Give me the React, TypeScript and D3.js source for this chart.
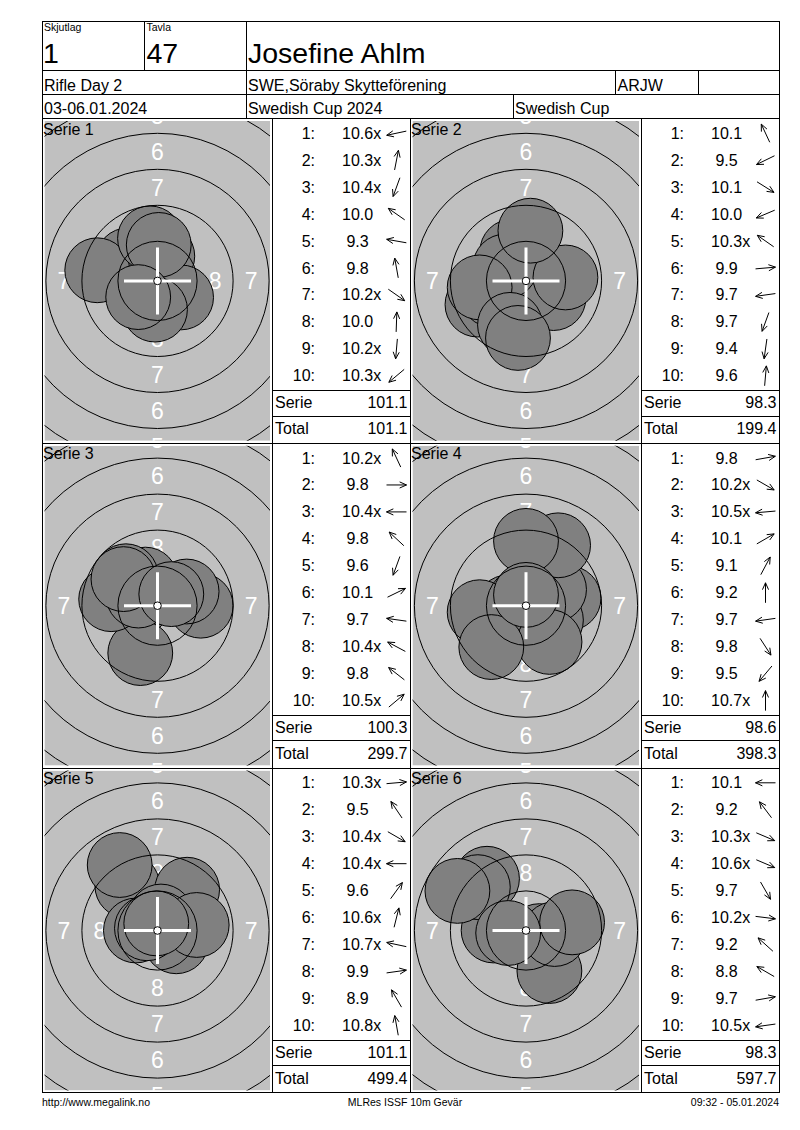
import React from 'react';
import * as d3 from 'd3';

// ---------- DATA ----------
const seriesNames = ['Serie 1', 'Serie 2', 'Serie 3', 'Serie 4', 'Serie 5', 'Serie 6'];

const shotLabels: string[][] = [
  ['10.6x', '10.3x', '10.4x', '10.0', '9.3', '9.8', '10.2x', '10.0', '10.2x', '10.3x'],
  ['10.1', '9.5', '10.1', '10.0', '10.3x', '9.9', '9.7', '9.7', '9.4', '9.6'],
  ['10.2x', '9.8', '10.4x', '9.8', '9.6', '10.1', '9.7', '10.4x', '9.8', '10.5x'],
  ['9.8', '10.2x', '10.5x', '10.1', '9.1', '9.2', '9.7', '9.8', '9.5', '10.7x'],
  ['10.3x', '9.5', '10.4x', '10.4x', '9.6', '10.6x', '10.7x', '9.9', '8.9', '10.8x'],
  ['10.1', '9.2', '10.3x', '10.6x', '9.7', '10.2x', '9.2', '8.8', '9.7', '10.5x'],
];

// direction of each shot from the centre, degrees (0 = right, 90 = up)
const shotAngles: number[][] = [
  [192, 79, 250, 145, 170, 100, 325, 88, 265, 220],
  [115, 206, 328, 203, 145, 5, 188, 250, 262, 85],
  [115, 0, 180, 137, 250, 26, 172, 152, 142, 40],
  [10, 330, 185, 30, 62, 90, 188, 303, 230, 90],
  [5, 124, 330, 180, 54, 76, 168, 8, 120, 100],
  [180, 127, 337, 337, 300, 353, 138, 150, 10, 188],
];

const serieSums = ['101.1', '98.3', '100.3', '98.6', '101.1', '98.3'];
const runningTotals = ['101.1', '199.4', '299.7', '398.3', '499.4', '597.7'];

const ringNumbers = [1, 2, 3, 4, 5, 6, 7, 8, 9];
const labelledRings = [8, 7, 6, 5];

const header = {
  skjutlagLabel: 'Skjutlag',
  skjutlag: '1',
  tavlaLabel: 'Tavla',
  tavla: '47',
  name: 'Josefine Ahlm',
  event: 'Rifle Day 2',
  club: 'SWE,Söraby Skytteförening',
  cls: 'ARJW',
  date: '03-06.01.2024',
  comp: 'Swedish Cup 2024',
  cup: 'Swedish Cup',
};
const footer = {
  left: 'http://www.megalink.no',
  mid: 'MLRes ISSF 10m Gevär',
  right: '09:32 - 05.01.2024',
};

// ISSF 10 m air rifle geometry (mm)
const ringRadiusMm = (k: number) => 0.25 + (10 - k) * 2.5;
const shotRadiusMm = 2.25;
const scoreToDistMm = (s: number) => Math.max(0.25, (11 - s) * 2.5);

// ---------- LAYOUT ----------
const W = 800;
const H = 1130;
const X0 = 42.5;
const X1 = 779.5;
const headerY = [21.5, 70.5, 94.5, 118.5];
const rowTop0 = 118.5;
const rowH = 324.8;
const colTarget = [
  [42.5, 272.5],
  [410.5, 641.5],
];
const colList = [
  [272.5, 410.5],
  [641.5, 779.5],
];
const PX_PER_MM = 14.4;
const FONT = "'Liberation Sans', Arial, Helvetica, sans-serif";

const rnd = (v: number) => Math.round(v - 0.5) + 0.5;

function Target({ idx, left, right, top, bottom }: { idx: number; left: number; right: number; top: number; bottom: number }) {
  const cx = (left + right) / 2;
  const cy = (top + bottom) / 2;
  const xs = d3.scaleLinear().domain([0, 1]).range([cx, cx + PX_PER_MM]);
  const ys = d3.scaleLinear().domain([0, 1]).range([cy, cy - PX_PER_MM]);
  const rs = d3.scaleLinear().domain([0, 1]).range([0, PX_PER_MM]);
  const clipId = `clip-${idx}`;
  const gx0 = left + 2;
  const gx1 = right - 2.5;
  const gy0 = top + 2.5;
  const gy1 = bottom - 2.5;
  const shots = shotLabels[idx].map((lab, i) => {
    const s = parseFloat(lab);
    const d = scoreToDistMm(s);
    const a = (shotAngles[idx][i] * Math.PI) / 180;
    return { x: xs(d * Math.cos(a)), y: ys(d * Math.sin(a)) };
  });
  const labels: { x: number; y: number; t: string }[] = [];
  labelledRings.forEach((k) => {
    const r = rs((ringRadiusMm(k) + ringRadiusMm(k + 1)) / 2);
    const cand = [
      { x: cx, y: cy - r },
      { x: cx, y: cy + r },
      { x: cx - r, y: cy },
      { x: cx + r, y: cy },
    ];
    cand.forEach((c) => {
      // keep only labels that at least partly show inside the target face
      if (c.x > gx0 - 6 && c.x < gx1 + 6 && c.y > gy0 - 10 && c.y < gy1 + 10) {
        labels.push({ ...c, t: String(k) });
      }
    });
  });
  const ch = 33.5;
  return (
    <g>
      <defs>
        <clipPath id={clipId}>
          <rect x={gx0} y={gy0} width={gx1 - gx0} height={gy1 - gy0} />
        </clipPath>
      </defs>
      <g clipPath={`url(#${clipId})`}>
        <rect x={gx0} y={gy0} width={gx1 - gx0} height={gy1 - gy0} fill="#c0c0c0" />
        {labels.map((l, i) => (
          <text key={i} x={l.x} y={l.y} dy="0.36em" textAnchor="middle" fontSize={23} fill="#ffffff" fontFamily={FONT}>
            {l.t}
          </text>
        ))}
        {shots.map((p, i) => (
          <circle key={i} cx={p.x} cy={p.y} r={rs(shotRadiusMm)} fill="#808080" stroke="#000" strokeWidth={1} />
        ))}
        {ringNumbers.map((k) => (
          <circle key={k} cx={cx} cy={cy} r={rs(ringRadiusMm(k))} fill="none" stroke="#000" strokeWidth={1} />
        ))}
        <line x1={cx - ch} x2={cx + ch} y1={cy} y2={cy} stroke="#fff" strokeWidth={3} />
        <line x1={cx} x2={cx} y1={cy - ch} y2={cy + ch} stroke="#fff" strokeWidth={3} />
        <circle cx={cx} cy={cy} r={rs(ringRadiusMm(10)) + 0.2} fill="#fff" stroke="#000" strokeWidth={1} />
      </g>
      <text x={left + 0.5} y={top + 16} fontSize={16} fontFamily={FONT} fill="#000">
        {seriesNames[idx]}
      </text>
    </g>
  );
}

function Arrow({ cx, cy, angle }: { cx: number; cy: number; angle: number }) {
  const a = (angle * Math.PI) / 180;
  const ux = Math.cos(a);
  const uy = -Math.sin(a);
  const L = 20;
  const hx = cx + (ux * L) / 2;
  const hy = cy + (uy * L) / 2;
  const tx = cx - (ux * L) / 2;
  const ty = cy - (uy * L) / 2;
  const barb = 7.5;
  const spread = (24 * Math.PI) / 180;
  const b = (sgn: number) => {
    const c = Math.cos(sgn * spread);
    const s = Math.sin(sgn * spread);
    const rx = ux * c - uy * s;
    const ry = ux * s + uy * c;
    return [hx - rx * barb, hy - ry * barb];
  };
  const b1 = b(1);
  const b2 = b(-1);
  const p = d3.path();
  p.moveTo(tx, ty);
  p.lineTo(hx, hy);
  p.moveTo(b1[0], b1[1]);
  p.lineTo(hx, hy);
  p.lineTo(b2[0], b2[1]);
  return <path d={p.toString()} fill="none" stroke="#000" strokeWidth={1} />;
}

function ShotList({ idx, left, right, top }: { idx: number; left: number; right: number; top: number }) {
  const rowStep = 26.96;
  const spaceW = 16 * 0.278;
  return (
    <g fontFamily={FONT} fontSize={16} fill="#000">
      {shotLabels[idx].map((lab, i) => {
        const by = top + 20.2 + i * rowStep;
        const v = parseFloat(lab);
        return (
          <g key={i}>
            <text x={left + 42.5} y={by} textAnchor="end">{`${i + 1}:`}</text>
            <text x={left + 69.5 + (v < 10 ? spaceW : 0)} y={by}>{lab}</text>
            <Arrow cx={left + 124} cy={by - 5.5} angle={shotAngles[idx][i]} />
          </g>
        );
      })}
      <line x1={left} x2={right} y1={rnd(top + 272)} y2={rnd(top + 272)} stroke="#000" />
      <line x1={left} x2={right} y1={rnd(top + 297.5)} y2={rnd(top + 297.5)} stroke="#000" />
      <text x={left + 2.5} y={top + 289.8}>Serie</text>
      <text x={right - 3} y={top + 289.8} textAnchor="end">{serieSums[idx]}</text>
      <text x={left + 2.5} y={top + 315.8}>Total</text>
      <text x={right - 3} y={top + 315.8} textAnchor="end">{runningTotals[idx]}</text>
    </g>
  );
}

export default function App() {
  const rows = [0, 1, 2].map((r) => ({ top: rowTop0 + r * rowH, bottom: rowTop0 + (r + 1) * rowH }));
  const bottomY = rnd(rows[2].bottom);
  return (
    <svg
      width={W}
      height={H}
      viewBox={`0 0 ${W} ${H}`}
      style={{ position: 'absolute', left: 0, top: 0, background: '#fff' }}
    >
      <rect x={0} y={0} width={W} height={H} fill="#fff" />
      {seriesNames.map((_, i) => {
        const col = i % 2;
        const r = rows[Math.floor(i / 2)];
        return (
          <g key={i}>
            <Target idx={i} left={colTarget[col][0]} right={colTarget[col][1]} top={r.top} bottom={r.bottom} />
            <ShotList idx={i} left={colList[col][0]} right={colList[col][1]} top={r.top} />
          </g>
        );
      })}

      {/* grid lines */}
      <g stroke="#000" strokeWidth={1} fill="none">
        <rect x={X0} y={headerY[0]} width={X1 - X0} height={bottomY - headerY[0]} />
        {headerY.slice(1).map((y) => (
          <line key={y} x1={X0} x2={X1} y1={y} y2={y} />
        ))}
        {rows.slice(0, 2).map((r, i) => (
          <line key={i} x1={X0} x2={X1} y1={rnd(r.bottom)} y2={rnd(r.bottom)} />
        ))}
        <line x1={144.5} x2={144.5} y1={headerY[0]} y2={headerY[1]} />
        <line x1={246.5} x2={246.5} y1={headerY[0]} y2={headerY[3]} />
        <line x1={615.5} x2={615.5} y1={headerY[1]} y2={headerY[2]} />
        <line x1={698.5} x2={698.5} y1={headerY[1]} y2={headerY[2]} />
        <line x1={513.5} x2={513.5} y1={headerY[2]} y2={headerY[3]} />
        <line x1={272.5} x2={272.5} y1={headerY[3]} y2={bottomY} />
        <line x1={410.5} x2={410.5} y1={headerY[3]} y2={bottomY} />
        <line x1={641.5} x2={641.5} y1={headerY[3]} y2={bottomY} />
      </g>

      {/* header text */}
      <g fontFamily={FONT} fill="#000">
        <text x={44} y={30.5} fontSize={10.5}>{header.skjutlagLabel}</text>
        <text x={43} y={63} fontSize={28.5}>{header.skjutlag}</text>
        <text x={146.5} y={30.5} fontSize={10.5}>{header.tavlaLabel}</text>
        <text x={146.5} y={63} fontSize={28.5}>{header.tavla}</text>
        <text x={248} y={63} fontSize={28.5}>{header.name}</text>
        <text x={44} y={90.5} fontSize={16}>{header.event}</text>
        <text x={248} y={90.5} fontSize={16}>{header.club}</text>
        <text x={617.5} y={90.5} fontSize={16}>{header.cls}</text>
        <text x={44} y={114} fontSize={16}>{header.date}</text>
        <text x={248} y={114} fontSize={16}>{header.comp}</text>
        <text x={515} y={114} fontSize={16}>{header.cup}</text>
      </g>

      {/* footer */}
      <g fontFamily={FONT} fill="#000" fontSize={10.5}>
        <text x={42} y={1106}>{footer.left}</text>
        <text x={405} y={1106} textAnchor="middle">{footer.mid}</text>
        <text x={779} y={1106} textAnchor="end">{footer.right}</text>
      </g>
    </svg>
  );
}
